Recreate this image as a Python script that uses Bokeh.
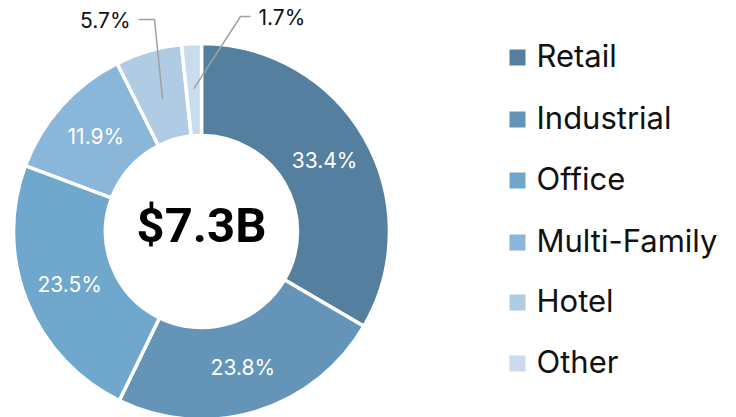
import numpy as np
from bokeh.plotting import figure
from bokeh.models import ColumnDataSource, Range1d
from bokeh.core.properties import value
from bokeh.embed import file_html
from bokeh.resources import INLINE

categories = ["Retail", "Industrial", "Office", "Multi-Family", "Hotel", "Other"]
shares = [33.4, 23.8, 23.5, 11.9, 5.7, 1.7]
labels = ["33.4%", "23.8%", "23.5%", "11.9%", "5.7%", "1.7%"]
total_label = "$7.3B"
colors = ["#557f9f", "#6495b8", "#6fa7cd", "#8ab6da", "#b0cce4", "#c9dbec"]

W, H = 736, 417
FONT = "Inter"

def px(x):  # image x -> plot x
    return x

def py(y):  # image y -> plot y
    return H - y

cx, cy = px(201), py(231)
r_out, r_in, r_lab = 188, 96, 142

vals = np.array(shares, dtype=float)
frac = vals / vals.sum()
cum = np.concatenate([[0], np.cumsum(frac)])
start = np.pi / 2 - 2 * np.pi * cum[:-1]
end = np.pi / 2 - 2 * np.pi * cum[1:]
mid = 2 * np.pi * (cum[:-1] + cum[1:]) / 2

p = figure(width=W, height=H, output_backend="svg", toolbar_location=None,
           x_range=Range1d(0, W), y_range=Range1d(0, H), min_border=0)
p.axis.visible = False
p.grid.visible = False
p.outline_line_color = None
p.background_fill_color = "white"

src = ColumnDataSource(dict(start=start, end=end, color=colors, cat=categories))
p.annular_wedge(x=cx, y=cy, inner_radius=r_in, outer_radius=r_out,
                start_angle="start", end_angle="end", direction="clock",
                fill_color="color", line_color="white", line_width=3.5, source=src)

inside = [i for i in range(len(shares)) if frac[i] > 0.08]
lx = [cx + r_lab * np.sin(mid[i]) for i in inside]
ly = [cy + r_lab * np.cos(mid[i]) for i in inside]
p.text(x=lx, y=ly, text=[labels[i] for i in inside], text_color="white",
       text_font=value(FONT), text_font_size="21px", text_align="center",
       text_baseline="middle")

small = [i for i in range(len(shares)) if frac[i] <= 0.08]
elbows = {4: (px(154), py(19), px(138), "right", px(130), py(20)),
          5: (px(240), py(16), px(250), "left", px(258), py(17))}
r_lead = {4: 138, 5: 143}
for i in small:
    ex, ey, hx, align, tx, ty = elbows[i]
    sx = cx + r_lead[i] * np.sin(mid[i])
    sy = cy + r_lead[i] * np.cos(mid[i])
    p.line(x=[sx, ex, hx], y=[sy, ey, ey], line_color="#a0a0a0", line_width=1.5)
    p.text(x=[tx], y=[ty], text=[labels[i]], text_color="#111111",
           text_font=value(FONT), text_font_size="21px", text_align=align,
           text_baseline="middle")

p.text(x=[cx], y=[py(225)], text=[total_label], text_color="black",
       text_font=value("Roboto"), text_font_style="bold", text_font_size="49px",
       text_align="center", text_baseline="middle")

leg_y = [55, 117, 178, 240, 300, 361]
p.rect(x=[px(517)] * len(categories), y=[py(v + 2) for v in leg_y], width=16, height=16,
       fill_color=colors, line_color=None)
p.text(x=[px(536)] * len(categories), y=[py(v) for v in leg_y], text=categories,
       text_color="#111111", text_font=value(FONT), text_font_size="31px",
       text_align="left", text_baseline="middle")

open("out.html", "w").write(file_html(p, INLINE))
